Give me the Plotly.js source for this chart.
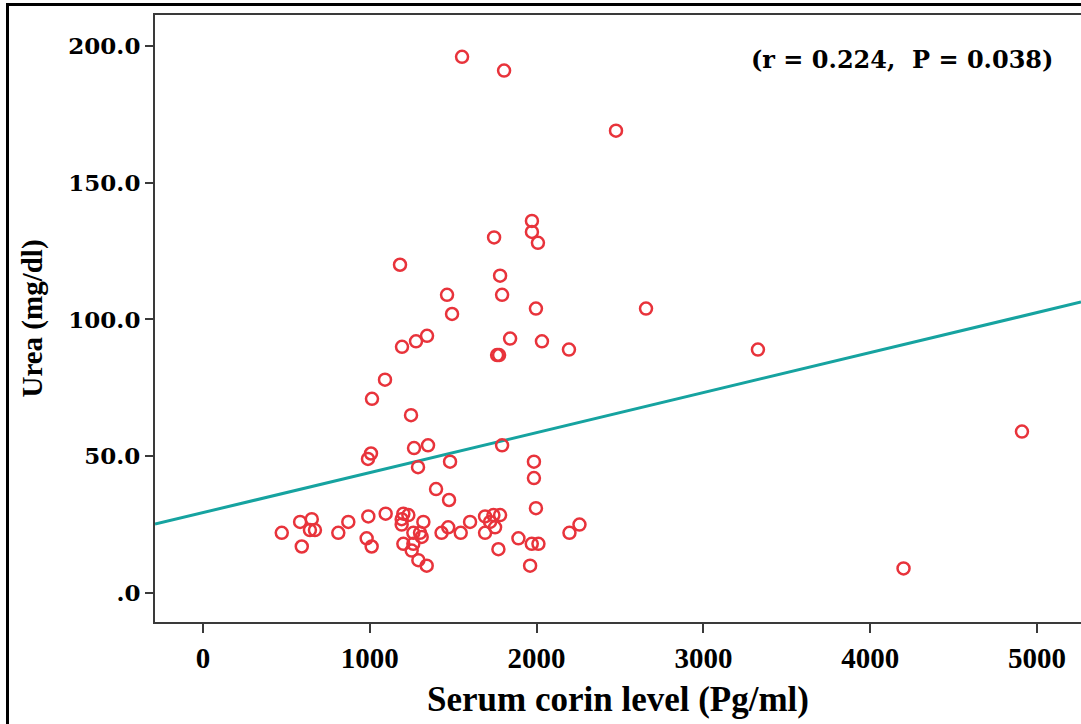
<!DOCTYPE html>
<html>
<head>
<meta charset="utf-8">
<script src="https://cdn.plot.ly/plotly-3.0.1.min.js"></script>
<style>
  html, body { margin: 0; padding: 0; background: #fff; overflow: hidden; }
  #chart { width: 1081px; height: 724px; }
  #frame { position: absolute; left: 6px; top: 3px; width: 1200px; height: 900px;
           border: 3px solid #000; pointer-events: none; box-sizing: border-box; }
</style>
</head>
<body>
<div id="chart"></div>
<div id="frame"></div>
<script>
// Serum corin level (Pg/ml)
const corin = [
  1553, 1805, 2476, 1972, 1972, 2008, 1745, 1181, 1781, 1463,
  1793, 2656, 1996, 1493, 1343, 1277, 1193, 1841, 2032, 2194,
  3327, 1763, 1775, 1091, 1013, 1247, 4910, 1793, 1349, 1265,
  1007, 989, 1481, 1984, 1289, 1984, 1397, 1475, 1996,
  472, 582, 652, 641, 671, 592, 811, 871, 991, 981,
  1011, 1095, 1201, 1231, 1191, 1191, 1321, 1261, 1301, 1311,
  1261, 1201, 1251, 1291, 1341, 1430, 1470, 1545, 1601, 1691,
  1741, 1781, 1691, 1751, 1721, 1771, 1891, 1971, 2011, 1961,
  2197, 2257, 4200
];
// Urea (mg/dl)
const urea = [
  196, 191, 169, 136, 132, 128, 130, 120, 116, 109,
  109, 104, 104, 102, 94, 92, 90, 93, 92, 89,
  89, 87, 87, 78, 71, 65, 59, 54, 54, 53,
  51, 49, 48, 48, 46, 42, 38, 34, 31,
  22, 26, 27, 23, 23, 17, 22, 26, 28, 20,
  17, 29, 29, 28.5, 27, 25, 26, 22, 22, 20.5,
  18, 18, 15.5, 12, 10, 22, 24, 22, 26, 28,
  28.5, 28.5, 22, 24, 26, 16, 20, 18, 18, 10,
  22, 25, 9
];
// Fit line
const fitIntercept = 29.4;
const fitSlope = 0.01462;
const xRange = [-288, 5264];
const yRange = [-10.6, 211.3];
const xTicks = [0, 1000, 2000, 3000, 4000, 5000];
const yTicks = [0, 50, 100, 150, 200];
const yTickText = ['.0', '50.0', '100.0', '150.0', '200.0'];
const statText = '(r = 0.224,&nbsp; P = 0.038)';

const fitX = xRange.slice();
const fitY = fitX.map(x => fitIntercept + fitSlope * x);

const traces = [
  {
    x: fitX, y: fitY, type: 'scatter', mode: 'lines',
    line: { color: '#16a3a0', width: 3 }, hoverinfo: 'skip', showlegend: false
  },
  {
    x: corin, y: urea, type: 'scatter', mode: 'markers',
    marker: { symbol: 'circle-open', size: 12, color: '#e8333b', line: { width: 2.5, color: '#e8333b' } },
    showlegend: false
  }
];

const layout = {
  width: 1081, height: 724,
  margin: { l: 155, r: 0, t: 15, b: 102 },
  paper_bgcolor: '#fff', plot_bgcolor: '#fff',
  showlegend: false,
  xaxis: {
    range: xRange, tickvals: xTicks, ticktext: xTicks.map(String),
    showgrid: false, zeroline: false,
    showline: true, mirror: true, linecolor: '#3a3a3a', linewidth: 2,
    ticks: 'outside', ticklen: 9, tickwidth: 2, tickcolor: '#3a3a3a',
    tickfont: { family: 'Liberation Serif', size: 29, color: '#000', weight: 'bold' },
    title: { text: '<b>Serum corin level (Pg/ml)</b>', font: { family: 'Liberation Serif', size: 35, color: '#000' }, standoff: 14 }
  },
  yaxis: {
    range: yRange, tickvals: yTicks, ticktext: yTickText,
    showgrid: false, zeroline: false,
    showline: true, mirror: true, linecolor: '#3a3a3a', linewidth: 2,
    ticks: 'outside', ticklen: 8, tickwidth: 2, tickcolor: '#3a3a3a',
    tickfont: { family: 'DejaVu Serif', size: 23, color: '#000', weight: 'bold' },
    title: { text: '<b>Urea (mg/dl)</b>', font: { family: 'Liberation Serif', size: 29, color: '#000' }, standoff: 17 }
  },
  annotations: [
    {
      xref: 'paper', yref: 'paper', x: 0.972, y: 0.926,
      xanchor: 'right', yanchor: 'middle', showarrow: false,
      text: '<b>' + statText + '</b>',
      font: { family: 'DejaVu Serif', size: 24, color: '#000' }
    }
  ]
};

Plotly.newPlot('chart', traces, layout, { displayModeBar: false, staticPlot: true });
</script>
</body>
</html>
